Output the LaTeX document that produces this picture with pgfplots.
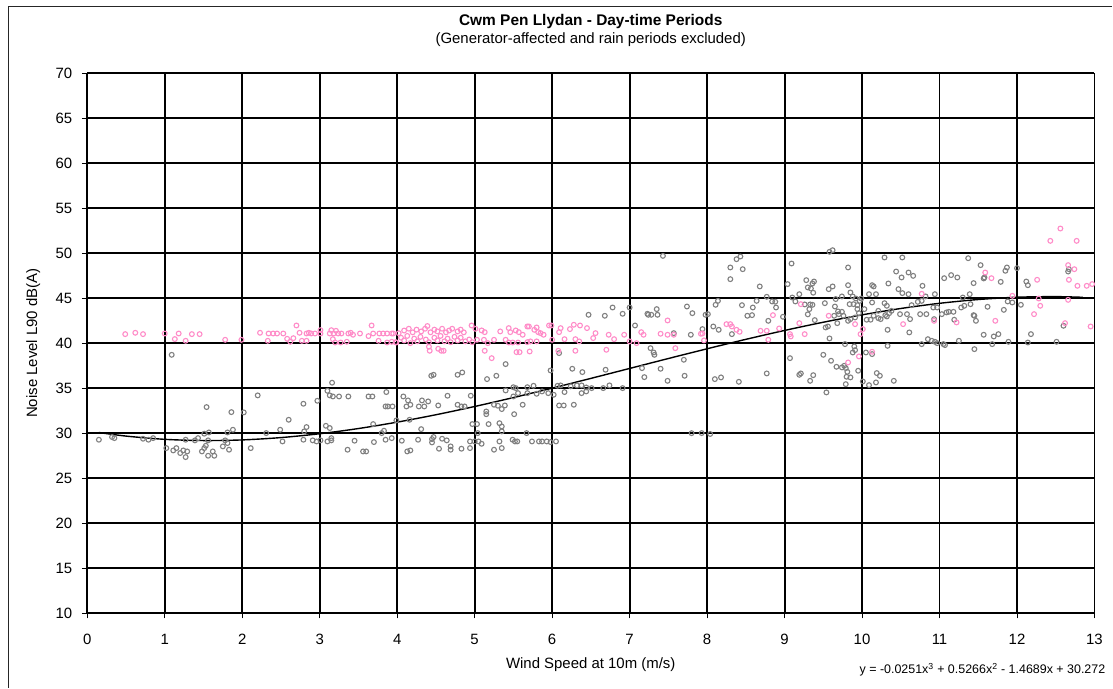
\documentclass[border=0pt]{standalone}
\usepackage{fontspec}
\setmainfont{Liberation Sans}
\usepackage{pgfplots}
\pgfplotsset{compat=1.18}
\usetikzlibrary{calc}
\definecolor{ptgrey}{RGB}{128,128,128}
\definecolor{ptpink}{RGB}{255,140,200}
\begin{document}
\begin{tikzpicture}[x=1bp,y=1bp]
\begin{axis}[
  name=ax, at={(0,0)}, anchor=south west,
  scale only axis, width=1007.7bp, height=540bp,
  xmin=0, xmax=13, ymin=10, ymax=70,
  xtick={0,1,...,13}, ytick={10,15,...,70},
  grid=major, major grid style={black, line width=1.9bp},
  axis line style={black, line width=1bp},
  tick align=outside, xtick pos=left, ytick pos=left,
  major tick length=5.5bp, tick style={black, line width=0.8bp},
  /pgf/number format/assume math mode=true,
  ticklabel style={font=\fontsize{15}{17}\selectfont},
  xticklabel style={yshift=-12bp},
  yticklabel style={xshift=-6bp},
  clip=false,
]
\addplot[only marks, mark=o, mark size=2.4bp, mark options={draw=ptgrey, line width=1.1bp}] coordinates {
(0.15,29.26)(0.32,29.56)(0.35,29.44)(0.72,29.37)(0.79,29.26)(0.85,29.44)
(1.02,28.33)(1.11,28.07)(1.15,28.33)(1.20,27.78)(1.24,28.07)(1.27,27.33)(1.29,27.96)(1.27,29.26)
(1.39,29.19)(1.43,29.44)(1.51,29.93)(1.57,30.07)(1.54,32.89)(1.48,27.96)(1.51,28.33)(1.53,28.59)
(1.56,27.48)(1.62,27.96)(1.64,27.48)(1.56,29.19)(1.75,28.52)(1.78,29.19)(1.81,28.89)(1.83,28.15)
(1.81,30.07)(1.88,30.37)(1.86,32.33)(2.02,32.30)(2.11,28.33)(2.20,34.19)(2.31,30.00)(2.49,30.37)
(2.52,29.07)(2.60,31.48)(2.79,33.26)(2.79,29.26)(2.80,30.19)(2.83,30.67)(2.91,29.19)(2.96,29.07)
(3.01,29.19)(2.97,33.59)(3.08,30.81)(3.13,30.56)(3.10,29.07)(3.15,29.19)(3.15,29.44)(3.10,34.70)
(3.13,34.19)(3.17,34.07)(3.25,34.07)(3.37,34.07)(3.16,35.60)(3.36,28.15)(3.45,29.15)(3.56,27.96)
(3.60,27.96)(3.70,29.00)(3.63,34.07)(3.68,34.07)(3.69,31.00)(3.80,30.00)(3.83,30.26)(3.85,29.26)
(3.93,29.44)(3.86,34.56)(3.85,32.96)(3.88,32.96)(3.94,32.96)(3.99,31.41)(1.09,38.70)
(4.08,34.07)(4.14,33.63)(4.12,32.96)(4.17,33.15)(4.28,32.96)(4.32,33.63)(4.35,32.96)(4.40,33.52)
(4.53,33.07)(4.65,34.15)(4.78,33.15)(4.83,32.96)(4.87,32.96)(4.95,34.15)(4.16,31.48)(4.31,30.44)
(4.06,29.15)(4.13,27.96)(4.17,28.07)(4.27,29.26)(4.45,29.33)(4.47,29.56)(4.45,28.96)(4.58,29.37)
(4.64,29.19)(4.54,28.26)(4.69,28.52)(4.69,28.15)(4.83,28.26)(4.94,28.33)(4.94,29.07)(5.00,29.07)
(5.05,29.07)(5.09,28.81)(5.15,32.40)(5.15,32.10)(5.04,30.00)(4.97,31.00)(5.03,31.00)(5.18,31.00)
(5.32,31.10)(5.35,30.74)(5.35,30.19)(5.25,28.15)(5.32,29.07)(5.35,28.33)(5.25,33.15)(5.30,33.04)
(5.35,32.67)(5.39,33.07)(5.40,34.74)(5.50,35.10)(5.53,35.00)(5.56,34.44)(5.50,34.07)(5.51,32.10)
(5.62,33.15)(5.68,35.10)(5.68,34.44)(5.76,35.26)(5.80,34.37)(5.49,29.26)(5.52,29.07)(5.55,29.07)
(5.67,30.00)(5.74,29.07)(5.83,29.07)(5.87,29.07)(5.93,29.07)(5.98,29.00)(6.05,29.07)(5.87,34.63)
(5.95,34.44)(6.02,34.26)(6.07,35.26)(6.11,35.30)(6.09,33.07)(6.15,33.07)(6.28,33.15)(6.16,34.56)
(6.24,35.20)(6.32,35.30)(6.38,35.30)(6.38,34.44)(6.44,34.63)(6.44,35.07)(6.51,35.00)(6.66,35.00)
(6.74,35.30)(6.91,35.00)(7.80,29.99)(7.93,30.00)(8.04,29.90)
(4.44,36.37)(4.47,36.48)(4.78,36.48)(4.84,36.74)(5.16,36.00)(5.28,36.37)(5.40,37.67)(5.98,36.96)
(6.09,38.89)(6.26,37.15)(6.39,36.78)(6.69,37.04)(6.47,43.15)(6.68,43.04)(6.78,43.96)(6.91,43.26)
(7.00,43.96)(7.07,41.96)(7.23,43.26)(7.24,43.15)(7.28,43.15)(7.35,43.78)(7.36,43.15)(7.27,39.44)
(7.31,38.96)(7.32,38.70)(7.16,37.22)(7.19,36.22)(7.40,37.15)(7.49,35.81)(7.57,41.11)(7.70,38.15)
(7.71,36.37)(7.74,44.07)(7.81,43.33)(7.79,40.93)(7.98,43.15)(7.43,49.70)
(7.94,41.56)(8.01,43.22)(8.10,36.00)(8.18,36.19)(8.08,41.85)(8.15,41.48)(8.11,44.26)(8.14,44.70)
(8.30,48.41)(8.30,47.11)(8.38,49.33)(8.43,49.63)(8.46,48.22)(8.32,41.00)(8.41,35.70)(8.45,44.22)
(8.52,43.04)(8.58,43.11)(8.59,43.96)(8.64,44.70)(8.68,46.30)(8.77,45.15)(8.84,44.63)(8.88,44.60)
(8.89,43.96)(8.79,42.48)(8.77,36.63)(8.98,42.93)(9.04,46.56)(9.09,48.85)(9.10,45.07)(9.14,44.63)
(9.19,45.44)(9.28,47.00)(9.30,46.19)(9.34,46.07)(9.36,46.63)(9.38,46.85)(9.37,45.60)(9.33,44.30)
(9.26,44.30)(9.32,43.78)(9.36,44.26)(9.30,43.20)(9.39,42.56)(9.52,44.44)(9.53,41.74)(9.56,41.85)
(9.58,40.52)(9.57,46.00)(9.62,46.30)(9.58,50.15)(9.62,50.33)(9.66,44.90)(9.65,44.07)(9.69,43.52)
(9.70,43.22)(9.74,43.48)(9.76,43.04)(9.68,42.22)(9.64,43.04)(9.74,45.19)(9.82,46.44)(9.82,48.41)
(9.85,45.63)(9.88,45.19)(9.92,44.96)(9.89,44.33)(9.84,44.33)(9.94,44.22)(9.97,44.70)(9.99,44.96)
(9.82,42.48)(9.85,42.67)(9.91,42.85)(9.94,43.78)(9.96,43.33)(9.78,39.89)(9.90,39.63)(9.91,39.22)
(9.88,38.96)(9.07,38.33)(9.19,36.48)(9.21,36.63)(9.33,35.81)(9.37,36.44)(9.50,38.70)(9.60,38.04)
(9.54,34.52)(9.67,37.37)(9.74,37.30)(9.77,37.48)(9.79,37.22)(9.81,36.81)(9.80,36.26)(9.79,35.44)
(9.85,36.19)(9.95,36.93)(10.01,35.74)(10.05,38.96)(10.13,38.78)(10.09,35.33)(10.18,35.63)(10.23,36.37)
(10.19,36.67)(10.41,35.81)(10.03,43.78)(10.13,46.44)(10.15,46.30)(10.18,45.44)(10.09,45.44)(10.13,44.52)
(10.15,43.04)(10.11,42.60)(10.06,42.60)(10.21,42.78)(10.24,42.67)(10.30,43.11)(10.32,42.96)(10.35,43.33)
(10.38,43.59)(10.32,44.15)(10.29,44.44)(10.21,43.59)(10.29,49.52)(10.34,46.63)(10.33,41.48)(10.33,39.70)
(10.44,47.96)(10.51,47.30)(10.60,47.85)(10.66,47.48)(10.47,46.00)(10.52,45.56)(10.60,45.44)(10.49,43.22)
(10.58,43.22)(10.62,42.67)(10.64,44.22)(10.72,44.59)(10.77,44.70)(10.75,43.22)(10.83,43.22)(10.78,46.37)
(10.82,45.19)(10.94,45.44)(10.92,43.96)(10.97,43.96)(10.93,42.67)(10.52,49.52)(10.61,41.19)(10.77,39.89)
(10.85,40.44)(10.90,40.26)(10.94,40.15)(10.97,40.00)(11.05,39.89)(11.07,39.78)(11.03,43.22)(11.09,43.41)
(11.12,43.48)(11.18,43.48)(11.19,42.60)(11.28,43.96)(11.32,44.15)(11.40,44.33)(11.45,43.04)(11.47,42.48)
(11.44,43.11)(11.06,47.22)(11.15,47.56)(11.23,47.30)(11.37,49.44)(11.44,46.67)(11.53,48.67)(11.57,47.19)
(11.58,47.30)(11.30,45.07)(11.39,45.44)(11.25,40.26)(11.45,39.33)(11.57,40.93)(11.62,44.04)(11.68,39.89)
(11.70,40.74)(11.76,41.00)(11.79,46.81)(11.83,43.70)(11.85,48.04)(11.87,48.41)(11.88,44.63)(11.94,44.52)
(11.89,40.15)(12.00,48.33)(12.05,44.26)(12.12,46.85)(12.14,46.44)(12.14,40.07)(12.18,41.00)(12.51,40.15)
(12.60,41.93)(12.66,47.96)(12.67,48.22)
};
\addplot[only marks, mark=o, mark size=2.4bp, mark options={draw=ptpink, line width=1.1bp}] coordinates {
(0.49,41.00)(0.62,41.15)(0.72,41.00)(1.00,41.07)(1.13,40.45)(1.18,41.07)(1.27,40.26)(1.35,41.00)
(1.45,41.00)(1.78,40.37)(1.99,40.37)(2.23,41.15)(2.33,40.26)(2.34,41.07)(2.40,41.07)(2.45,41.07)
(2.53,41.07)(2.58,40.48)(2.62,40.15)(2.66,40.55)(2.70,41.96)(2.74,41.15)(2.77,40.26)(2.83,40.26)
(2.83,41.07)(2.86,41.15)(2.89,41.07)(2.94,41.07)(3.01,41.44)(3.01,41.07)(3.13,41.07)(3.15,41.44)
(3.18,41.07)(3.21,41.37)(3.24,41.07)(3.28,41.07)(3.37,41.07)(3.40,41.15)(3.43,40.93)(3.52,41.07)
(3.17,40.44)(3.20,40.07)(3.27,40.07)(3.35,40.15)(3.63,40.78)(3.67,41.96)(3.69,41.07)(3.77,41.07)
(3.82,41.07)(3.87,41.07)(3.93,41.07)(3.95,41.07)(3.76,40.26)(3.87,40.07)(3.93,40.15)(3.99,40.07)
(4.02,41.1)(4.09,41.4)(4.15,41.6)(4.20,41.2)(4.25,41.5)(4.31,41.3)(4.36,41.6)(4.39,41.9)(4.43,41.2)
(4.48,41.5)(4.52,41.3)(4.58,41.6)(4.63,41.2)(4.67,41.4)(4.71,41.6)(4.78,41.3)(4.82,41.5)(4.86,41.2)
(3.98,40.1)(4.05,40.6)(4.09,40.3)(4.13,40.8)(4.17,40.0)(4.22,40.5)(4.26,40.2)(4.30,40.7)(4.37,40.4)
(4.41,40.1)(4.48,40.6)(4.52,40.3)(4.56,40.8)(4.61,40.2)(4.65,40.5)(4.69,40.1)(4.74,40.7)(4.78,40.3)
(4.82,40.6)(4.88,40.2)(4.93,40.4)(4.97,40.1)(4.41,39.6)(4.42,39.15)(4.53,39.37)(4.57,39.15)(4.60,39.15)
(4.96,41.96)(5.01,41.59)(5.09,41.41)(5.13,41.22)(5.03,40.37)(5.12,40.37)(5.17,40.00)(5.25,40.37)
(5.33,41.30)(5.44,41.67)(5.46,41.22)(5.53,41.41)(5.57,41.22)(5.40,40.37)(5.44,40.07)(5.49,40.07)
(5.56,40.07)(5.62,40.93)(5.68,41.85)(5.70,41.85)(5.77,41.48)(5.80,41.74)(5.82,41.22)(5.68,40.11)
(5.72,40.19)(5.80,40.19)(5.85,41.11)(5.89,40.93)(5.96,41.96)(5.99,41.96)(6.00,40.37)(6.09,41.22)
(6.11,41.67)(6.16,40.44)(6.23,41.56)(6.28,42.04)(6.30,40.44)(6.35,40.19)(6.36,41.96)(6.45,41.67)
(6.53,40.56)(6.56,41.11)(6.73,40.93)(6.80,40.44)(6.93,40.93)(7.00,40.19)(7.09,40.00)(7.15,41.22)
(7.18,40.93)(7.40,41.04)(7.49,42.52)(7.49,40.93)(7.57,40.93)(7.59,39.44)(7.92,41.04)(7.96,40.30)
(5.13,39.15)(5.22,38.33)(5.54,39.00)(5.58,39.00)(5.71,39.07)(6.08,39.15)(6.30,39.15)(6.70,39.26)
(7.94,41.07)(8.25,42.11)(8.30,42.11)(8.32,41.85)(8.38,41.48)(8.42,41.26)(8.69,41.37)(8.77,41.37)
(8.79,40.37)(8.85,43.11)(8.93,41.63)(9.07,41.00)(9.08,40.74)(9.19,42.22)(9.26,41.00)(9.21,44.33)
(9.57,43.04)(9.82,37.85)(9.96,38.52)(10.01,41.56)(9.98,41.00)(9.91,42.11)(10.13,39.04)(10.53,42.11)
(10.77,45.48)(10.93,42.48)(11.59,47.85)(11.67,47.22)(11.72,42.48)(11.22,42.30)(11.94,45.26)(12.26,47.04)
(12.22,43.22)(12.28,44.96)(12.30,44.15)(12.43,51.37)(12.56,52.74)(12.77,51.37)(12.66,48.67)(12.74,48.22)
(12.67,47.04)(12.78,46.37)(12.66,44.81)(12.62,42.22)(12.90,46.37)(12.97,46.56)(12.95,41.85)
};
\addplot[black, line width=1.4bp, smooth, mark=none] coordinates {
(0.15,30.064)(0.5,29.666)(1,29.305)(1.5,29.169)(2,29.240)(2.5,29.499)(3,29.927)(3.5,30.505)
(4,31.216)(4.5,32.038)(5,32.955)(5.5,33.947)(6,34.995)(6.5,36.080)(7,37.184)(7.5,38.288)
(8,39.372)(8.5,40.419)(9,41.409)(9.5,42.323)(10,43.143)(10.5,43.850)(11,44.425)(11.5,44.848)
(12,45.103)(12.5,45.169)(12.85,45.092)
};
\end{axis}
\path (ax.south west) ++(-87.3,-74.7) coordinate (bbl);
\path (ax.south west) ++(1025.7,613.3) coordinate (btr);
\path (bbl) rectangle (btr);
\draw[black!85, line width=1.1bp] ($(ax.south west)+(-79,-74.7)$) -- ($(ax.south west)+(-79,606.6)$) -- ($(ax.south west)+(1025.7,606.6)$);
\node[font=\fontsize{15.5}{18}\selectfont\bfseries] at ($(ax.south west)+(503.7,592)$) {Cwm Pen Llydan - Day-time Periods};
\node[font=\fontsize{15}{18}\selectfont] at ($(ax.south west)+(503.7,574)$) {(Generator-affected and rain periods excluded)};
\node[font=\fontsize{15}{18}\selectfont] at ($(ax.south west)+(503.7,-52)$) {Wind Speed at 10m (m/s)};
\node[font=\fontsize{15}{18}\selectfont, rotate=90] at ($(ax.south west)+(-54,270)$) {Noise Level L90 dB(A)};
\node[font=\fontsize{12.5}{15}\selectfont, anchor=east, inner sep=0] at ($(ax.south west)+(1018.7,-57)$) {y = -0.0251x\textsuperscript{3} + 0.5266x\textsuperscript{2} - 1.4689x + 30.272};
\end{tikzpicture}
\end{document}
